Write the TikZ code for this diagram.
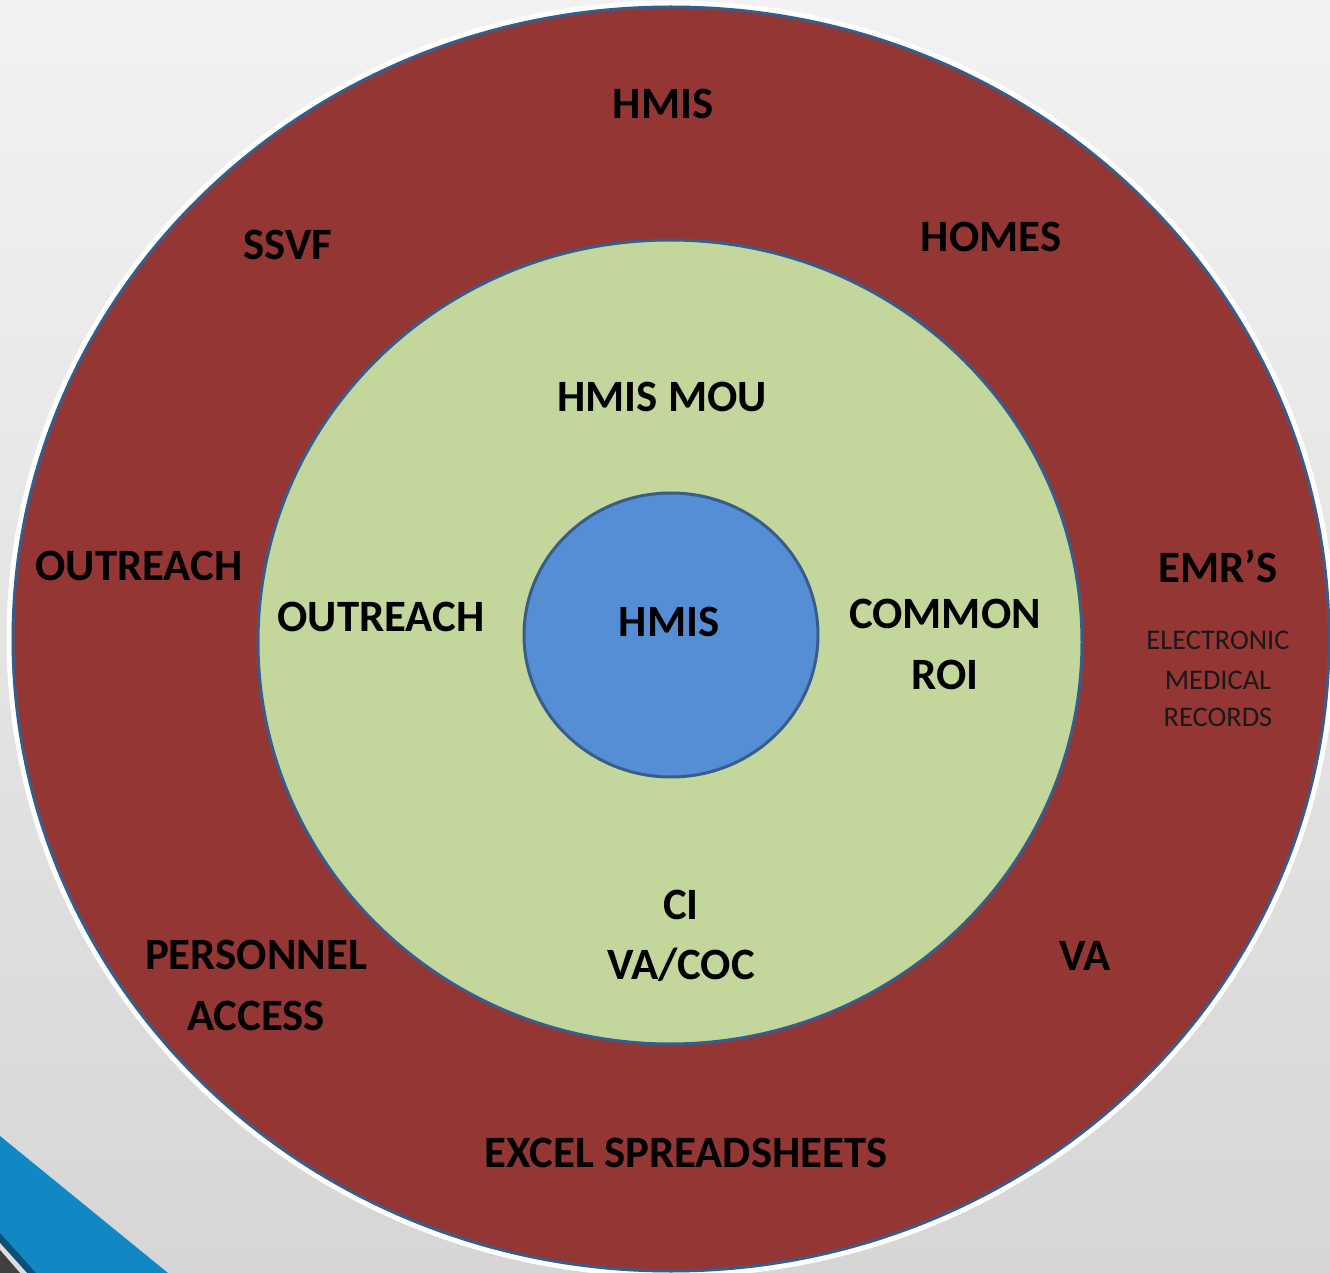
\documentclass[tikz,border=0pt]{standalone}
\usepackage{fontspec}
\setmainfont{Carlito}
\usetikzlibrary{shapes.geometric}
\definecolor{bgtop}{RGB}{242,242,242}
\definecolor{bgbot}{RGB}{214,214,214}
\definecolor{ringred}{RGB}{148,54,52}
\definecolor{ringgreen}{RGB}{195,214,155}
\definecolor{coreblue}{RGB}{85,142,213}
\definecolor{edgeblue}{RGB}{56,93,138}
\definecolor{stripeblue}{RGB}{17,135,195}
\definecolor{stripenavy}{RGB}{12,80,120}
\definecolor{stripegray}{RGB}{64,64,64}
\tikzset{
  ring/.style={ellipse, draw=edgeblue, line width=1.5pt, inner sep=0pt},
  big/.style={font=\bfseries\fontsize{22.4}{26}\selectfont, text=black, inner sep=0pt},
  small/.style={font=\fontsize{14.2}{16}\selectfont, text=black!90, inner sep=0pt}
}
\begin{document}
\begin{tikzpicture}[x=0.5pt,y=-0.5pt]
\useasboundingbox (0,0) rectangle (1330,1273);
\begin{scope}
\clip (0,0) rectangle (1330,1273);
\shade[top color=bgtop, bottom color=bgbot] (0,0) rectangle (1330,1273);
% corner stripe
\fill[stripeblue] (0,1136) -- (168,1273) -- (0,1273) -- cycle;
\fill[stripenavy] (0,1233) -- (36,1273) -- (0,1273) -- cycle;
\fill[bgbot!80] (0,1243) -- (27,1273) -- (0,1273) -- cycle;
\fill[stripegray] (0,1250) -- (20,1273) -- (0,1273) -- cycle;
% outer ring with glow
\draw[white, line width=2.5pt] (671,639) ellipse [x radius=662, y radius=636];
\node[ring, fill=ringred, minimum width=658pt, minimum height=632pt] (outer) at (671,639) {};
\end{scope}
\node[ring, fill=ringgreen, minimum width=412pt, minimum height=402pt] (middle) at (670,642) {};
\node[ring, fill=coreblue, minimum width=147pt, minimum height=142pt] (core) at (671,635) {};
% outer labels
\node[big] (o1) at (663,104) {HMIS};
\node[big] (o2) at (288,245) {SSVF};
\node[big] (o3) at (991,237) {HOMES};
\node[big] (o4) at (139,566) {OUTREACH};
\node[big] (o5) at (1218,566) {EMR’S};
\node[small] (o6) at (1218,640) {ELECTRONIC};
\node[small] (o7) at (1218,680) {MEDICAL};
\node[small] (o8) at (1218,717) {RECORDS};
\node[big] (o9) at (256,955) {PERSONNEL};
\node[big] (o10) at (256,1016) {ACCESS};
\node[big] (o11) at (1085,956) {VA};
\node[big] (o12) at (686,1153) {EXCEL SPREADSHEETS};
% middle labels
\node[big] (m1) at (662,397) {HMIS MOU};
\node[big] (m2) at (381,617) {OUTREACH};
\node[big] (m3) at (945,614) {COMMON};
\node[big] (m4) at (945,675) {ROI};
\node[big] (m5) at (681,905) {CI};
\node[big] (m6) at (681,965) {VA/COC};
% core label
\node[big] (c1) at (669,622) {HMIS};
\end{tikzpicture}
\end{document}
